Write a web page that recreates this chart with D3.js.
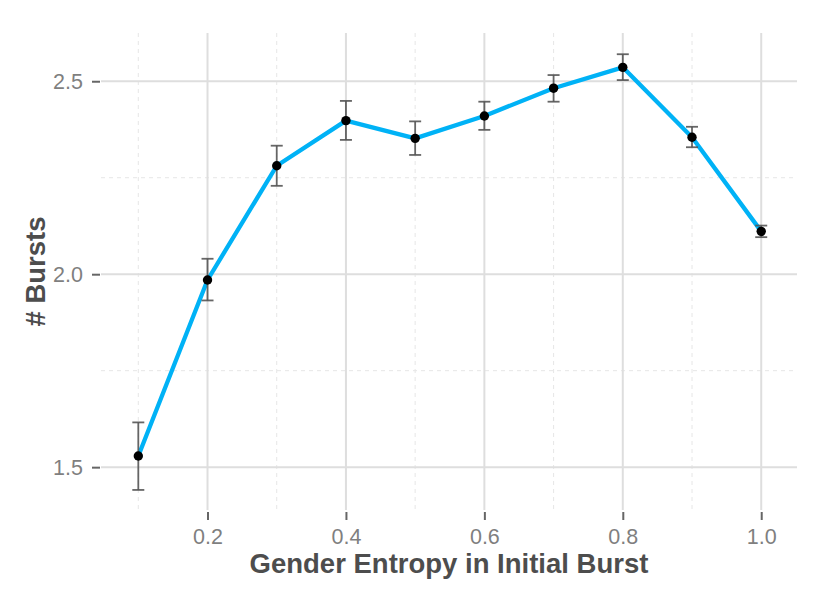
<!DOCTYPE html>
<html>
<head>
<meta charset="utf-8">
<script src="https://cdn.jsdelivr.net/npm/d3@7"></script>
<style>
  body { margin: 0; background: #fff; }
  svg { display: block; font-family: "Liberation Sans", Arial, sans-serif; }
</style>
</head>
<body>
<div class="chart"></div>
<script>
// Data
const entropy = [0.1, 0.2, 0.3, 0.4, 0.5, 0.6, 0.7, 0.8, 0.9, 1.0];
const bursts  = [1.529, 1.985, 2.281, 2.398, 2.352, 2.410, 2.482, 2.536, 2.355, 2.111];
const errLow  = [1.441, 1.932, 2.229, 2.348, 2.309, 2.374, 2.447, 2.503, 2.329, 2.096];
const errHigh = [1.616, 2.040, 2.333, 2.449, 2.396, 2.447, 2.516, 2.570, 2.382, 2.126];
const xTicks = [0.2, 0.4, 0.6, 0.8, 1.0];
const xMinor = [0.1, 0.3, 0.5, 0.7, 0.9];
const yTicks = [1.5, 2.0, 2.5];
const yMinor = [1.75, 2.25];

const data = entropy.map((e, i) => ({ x: e, y: bursts[i], lo: errLow[i], hi: errHigh[i] }));

const width = 830, height = 598;
const pLeft = 101, pRight = 797, pTop = 33, pBottom = 510;

const svg = d3.select(".chart").append("svg")
  .attr("width", width)
  .attr("height", height);

// Scales
const x = d3.scaleLinear().domain([0.0461, 1.0517]).range([pLeft, pRight]);
const y = d3.scaleLinear().domain([1.389, 2.625]).range([pBottom, pTop]);

// Minor grid
const grid = svg.append("g");
grid.selectAll(".xminor").data(xMinor).enter().append("line")
  .attr("x1", d => x(d)).attr("x2", d => x(d))
  .attr("y1", pTop).attr("y2", pBottom)
  .attr("stroke", "#e6e6e6").attr("stroke-width", 1).attr("stroke-dasharray", "4,4");
grid.selectAll(".yminor").data(yMinor).enter().append("line")
  .attr("x1", pLeft).attr("x2", pRight)
  .attr("y1", d => y(d)).attr("y2", d => y(d))
  .attr("stroke", "#e6e6e6").attr("stroke-width", 1).attr("stroke-dasharray", "4,4");

// Major grid
grid.selectAll(".xmajor").data(xTicks).enter().append("line")
  .attr("x1", d => x(d)).attr("x2", d => x(d))
  .attr("y1", pTop).attr("y2", pBottom)
  .attr("stroke", "#dedede").attr("stroke-width", 2);
grid.selectAll(".ymajor").data(yTicks).enter().append("line")
  .attr("x1", pLeft).attr("x2", pRight)
  .attr("y1", d => y(d)).attr("y2", d => y(d))
  .attr("stroke", "#dedede").attr("stroke-width", 2);

// X Axis
const xAxis = svg.append("g")
  .attr("transform", "translate(0," + (pBottom + 2) + ")")
  .call(d3.axisBottom(x).tickValues(xTicks).tickFormat(d3.format(".1f")).tickSize(8).tickPadding(9));
xAxis.select(".domain").remove();
xAxis.selectAll(".tick line").attr("stroke", "#666").attr("stroke-width", 2);
xAxis.selectAll(".tick text").attr("fill", "#7f7f7f").attr("font-size", 21.5);

// Y Axis
const yAxis = svg.append("g")
  .attr("transform", "translate(" + (pLeft - 1) + ",0)")
  .call(d3.axisLeft(y).tickValues(yTicks).tickFormat(d3.format(".1f")).tickSize(8).tickPadding(9));
yAxis.select(".domain").remove();
yAxis.selectAll(".tick line").attr("stroke", "#666").attr("stroke-width", 2);
yAxis.selectAll(".tick text").attr("fill", "#7f7f7f").attr("font-size", 21.5);

// Axis titles
svg.append("text")
  .attr("x", (pLeft + pRight) / 2).attr("y", 573)
  .attr("text-anchor", "middle")
  .attr("font-size", 27.5).attr("font-weight", "bold").attr("fill", "#4d4d4d")
  .text("Gender Entropy in Initial Burst");
svg.append("text")
  .attr("transform", "translate(45," + (pTop + pBottom) / 2 + ") rotate(-90)")
  .attr("text-anchor", "middle")
  .attr("font-size", 27.5).attr("font-weight", "bold").attr("fill", "#4d4d4d")
  .text("# Bursts");

// Line
svg.append("path")
  .datum(data)
  .attr("fill", "none")
  .attr("stroke", "#00b2f6")
  .attr("stroke-width", 4.3)
  .attr("stroke-linejoin", "round")
  .attr("d", d3.line().x(d => x(d.x)).y(d => y(d.y)));

// Error bars
const eb = svg.append("g").attr("stroke", "#555").attr("stroke-opacity", 0.9).attr("stroke-width", 1.8);
eb.selectAll(".v").data(data).enter().append("line")
  .attr("x1", d => x(d.x)).attr("x2", d => x(d.x))
  .attr("y1", d => y(d.lo)).attr("y2", d => y(d.hi));
eb.selectAll(".t").data(data).enter().append("line")
  .attr("x1", d => x(d.x) - 6).attr("x2", d => x(d.x) + 6)
  .attr("y1", d => y(d.hi)).attr("y2", d => y(d.hi));
eb.selectAll(".b").data(data).enter().append("line")
  .attr("x1", d => x(d.x) - 6).attr("x2", d => x(d.x) + 6)
  .attr("y1", d => y(d.lo)).attr("y2", d => y(d.lo));

// Points
svg.append("g")
  .selectAll("circle")
  .data(data).enter()
  .append("circle")
  .attr("cx", d => x(d.x))
  .attr("cy", d => y(d.y))
  .attr("r", 4.7)
  .attr("fill", "#000");
</script>
</body>
</html>
